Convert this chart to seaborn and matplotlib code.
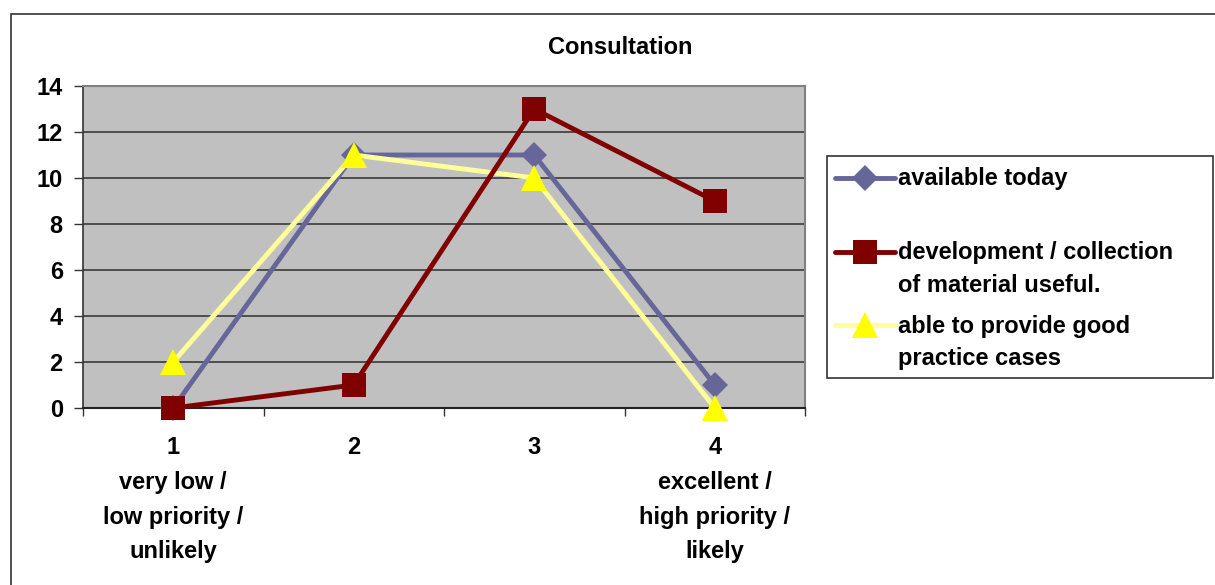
import matplotlib
matplotlib.use("Agg")
import matplotlib.pyplot as plt
from matplotlib.lines import Line2D
from matplotlib.patches import Rectangle
import seaborn as sns

# Rating scale and the three survey series
categories = ["1\nvery low /\nlow priority /\nunlikely", "2", "3",
              "4\nexcellent /\nhigh priority /\nlikely"]
available_today = [0, 11, 11, 1]
development_collection = [0, 1, 13, 9]
good_practice = [2, 11, 10, 0]
series_names = ["available today",
                "development / collection\nof material useful.",
                "able to provide good\npractice cases"]
y_ticks = [0, 2, 4, 6, 8, 10, 12, 14]

sns.set_style("white")
plt.rcParams["font.family"] = ["Liberation Sans", "DejaVu Sans"]
plt.rcParams["font.weight"] = "bold"
plt.rcParams["text.color"] = "black"
plt.rcParams["xtick.labelcolor"] = "black"
plt.rcParams["ytick.labelcolor"] = "black"

W, H = 1215, 585
fig = plt.figure(figsize=(W / 100, H / 100), dpi=100)
fig.patch.set_facecolor("white")

def fx(px):
    return px / W

def fy(py):
    return 1 - py / H

# outer chart frame
fig.add_artist(Rectangle((fx(11), fy(H + 20)), 1.2, fy(14) - fy(H + 20),
                         transform=fig.transFigure, fill=False,
                         edgecolor="#333333", linewidth=1.2))

ax = fig.add_axes([fx(83), fy(408), fx(805) - fx(83), fy(86) - fy(408)])
ax.set_facecolor("#C0C0C0")

x = list(range(len(categories)))
styles = [
    dict(values=available_today, color="#666699", mfc="#666699", marker="D", ms=13, z=3),
    dict(values=good_practice, color="#FFFF99", mfc="#FFFF00", marker="^", ms=19, z=4),
    dict(values=development_collection, color="#800000", mfc="#800000", marker="s", ms=17, z=5),
]
for st in styles:
    sns.lineplot(x=x, y=st["values"], ax=ax, color=st["color"], linewidth=3.5,
                 marker=st["marker"], markersize=st["ms"], markerfacecolor=st["mfc"],
                 markeredgecolor=st["mfc"], markeredgewidth=0, zorder=st["z"],
                 clip_on=False)

ax.set_xlim(-0.5, len(categories) - 0.5)
ax.set_ylim(0, 14)
ax.set_xlabel("")
ax.set_ylabel("")

ax.set_yticks(y_ticks)
ax.set_yticklabels([str(v) for v in y_ticks], fontsize=17, fontweight="bold", color="black")
ax.tick_params(axis="y", direction="out", length=6.5, width=1, color="#333333", pad=8, left=True)
ax.yaxis.grid(True, color="#3a3a3a", linewidth=1.2)
ax.set_axisbelow(True)

ax.set_xticks(x)
ax.set_xticklabels(categories, fontsize=17, fontweight="bold", linespacing=1.66, color="black")
ax.set_xticks([i - 0.5 for i in range(len(categories) + 1)], minor=True)
ax.tick_params(axis="x", which="major", length=0, pad=20)
ax.tick_params(axis="x", which="minor", direction="out", length=6, width=1,
               color="#333333", bottom=True)

for side in ["top", "right"]:
    ax.spines[side].set_color("#808080")
    ax.spines[side].set_linewidth(1.5)
ax.spines["left"].set_color("#333333")
ax.spines["bottom"].set_color("#222222")
ax.spines["left"].set_linewidth(1.2)
ax.spines["bottom"].set_linewidth(1.5)

fig.text(fx(620), fy(47), "Consultation", ha="center", va="center",
         fontsize=17, fontweight="bold", color="black")

# legend box
fig.add_artist(Rectangle((fx(827), fy(378)), fx(1213) - fx(827), fy(156) - fy(378),
                         transform=fig.transFigure, facecolor="white",
                         edgecolor="#333333", linewidth=1.2))
handle_y = [178, 252, 325]
text_baselines = [[185], [259, 292], [333, 365]]
for st, hy, name, bases in zip([styles[0], styles[2], styles[1]], handle_y,
                               series_names, text_baselines):
    fig.add_artist(Line2D([fx(835), fx(895)], [fy(hy), fy(hy)], transform=fig.transFigure,
                          color=st["color"], linewidth=3.5))
    fig.add_artist(Line2D([fx(865)], [fy(hy)], transform=fig.transFigure,
                          marker=st["marker"], markersize=st["ms"],
                          markerfacecolor=st["mfc"], markeredgewidth=0, linestyle="none"))
    for line, b in zip(name.split("\n"), bases):
        fig.text(fx(898), fy(b), line, ha="left", va="baseline",
                 fontsize=17, fontweight="bold", color="black")

fig.savefig("out.png", dpi=100)
